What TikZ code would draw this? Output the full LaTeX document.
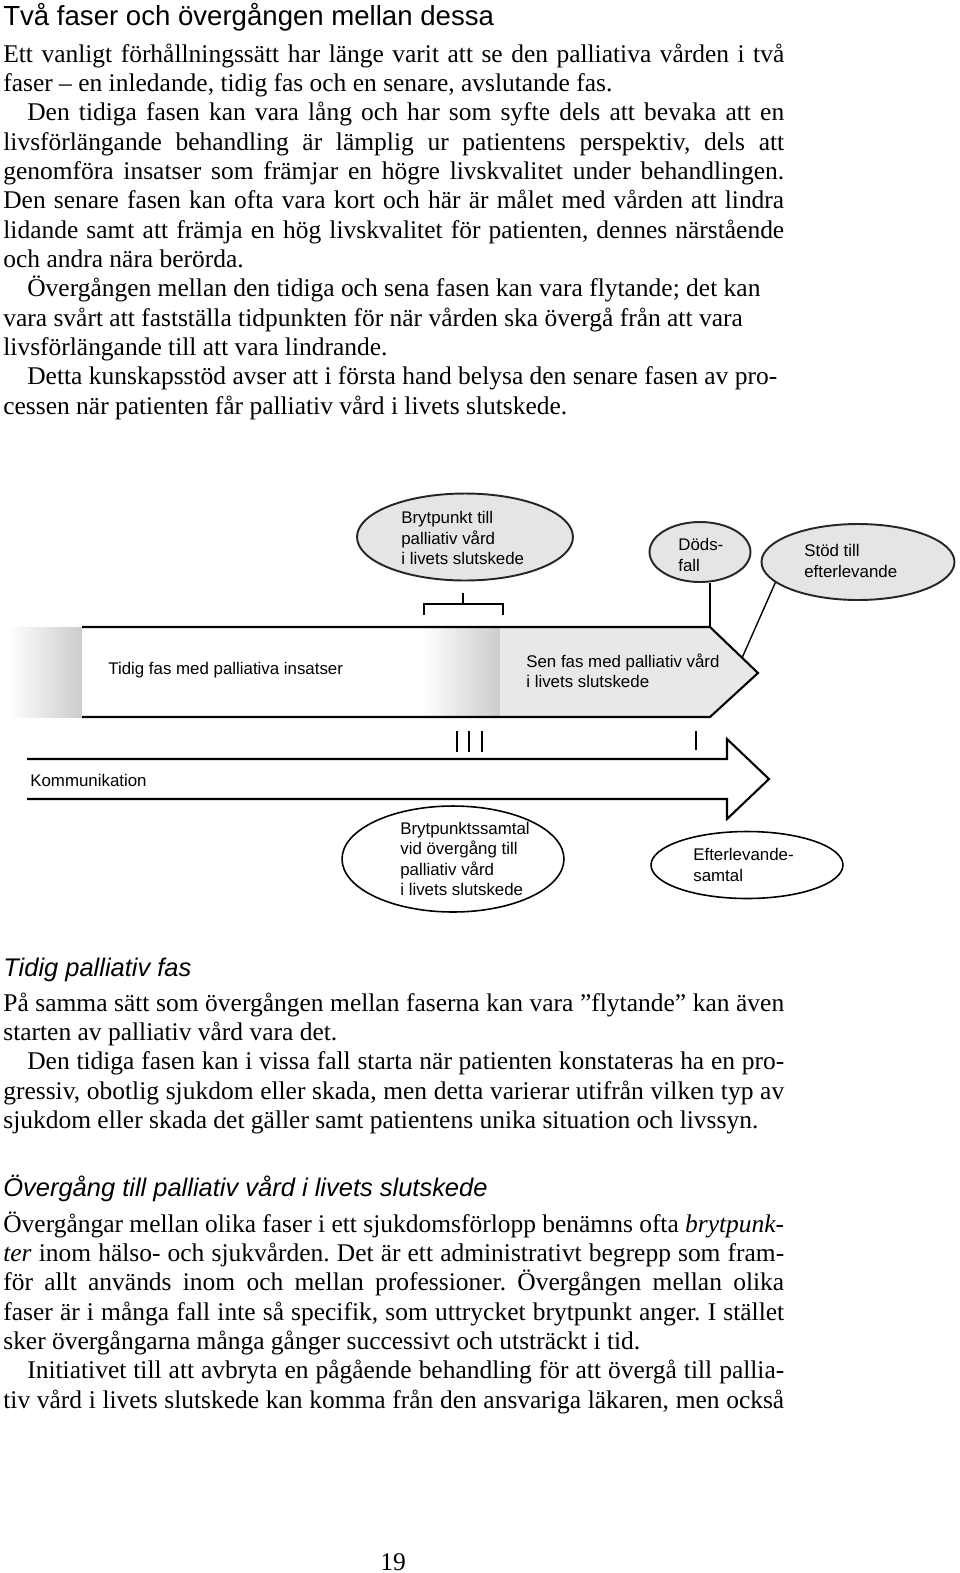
\documentclass[tikz,border=0pt]{standalone}
\usepackage{fontspec}
\setmainfont{Liberation Serif}
\setsansfont{Liberation Sans}
\usepackage{tikz}
\usetikzlibrary{shapes.geometric}

\definecolor{bubblegray}{gray}{0.9}
\definecolor{phasegray}{gray}{0.91}
\definecolor{edgegray}{gray}{0.8}

\begin{document}
\frenchspacing
\begin{tikzpicture}[x=0.02cm, y=-0.02cm,
  bodytext/.style={anchor=base west, inner sep=0pt, text width=15.62cm, align=justify,
    font=\fontsize{14.5}{16.7}\selectfont},
  headline/.style={anchor=base west, inner sep=0pt, font=\sffamily\fontsize{15.7}{18}\selectfont},
  subhead/.style={anchor=base west, inner sep=0pt, font=\sffamily\itshape\fontsize{14.5}{17}\selectfont},
  bubble/.style={ellipse, draw=black!85, line width=1.1pt, fill=bubblegray, inner sep=0pt},
  talk/.style={ellipse, draw, line width=0.9pt, fill=white, inner sep=0pt},
  tag/.style={anchor=west, inner sep=0pt, align=left, font=\sffamily\fontsize{9.6}{11.6}\selectfont},
  outline/.style={line width=1.2pt, line join=miter}]
\useasboundingbox (0,0) rectangle (960,1573);

\node[headline] (title) at (3,25) {Två faser och övergången mellan dessa};
\node[bodytext] (intro) at (3,62) {\setlength{\parindent}{0.48cm}\noindent
Ett vanligt förhållningssätt har länge varit att se den palliativa vården i två\linebreak
faser – en inledande, tidig fas och en senare, avslutande fas.\par
Den tidiga fasen kan vara lång och har som syfte dels att bevaka att en\linebreak
livsförlängande behandling är lämplig ur patientens perspektiv, dels att\linebreak
genomföra insatser som främjar en högre livskvalitet under behandlingen.\linebreak
Den senare fasen kan ofta vara kort och här är målet med vården att lindra\linebreak
lidande samt att främja en hög livskvalitet för patienten, dennes närstående\linebreak
och andra nära berörda.\par
Övergången mellan den tidiga och sena fasen kan vara flytande; det kan\newline
vara svårt att fastställa tidpunkten för när vården ska övergå från att vara\newline
livsförlängande till att vara lindrande.\par
Detta kunskapsstöd avser att i första hand belysa den senare fasen av pro-\newline
cessen när patienten får palliativ vård i livets slutskede.};

\node[bubble, minimum width=4.32cm, minimum height=1.74cm] (brytpunkt) at (465,537) {};
\node[tag] (brytpunkt text) at (401,538) {Brytpunkt till\\palliativ vård\\i livets slutskede};
\node[bubble, minimum width=2.02cm, minimum height=1.2cm] (dodsfall) at (700,552) {};
\node[tag] (dodsfall text) at (678,555) {Döds-\\fall};
\node[bubble, minimum width=3.86cm, minimum height=1.52cm] (stod) at (858,562) {};
\node[tag] (stod text) at (804,561) {Stöd till\\efterlevande};

\draw[line width=0.9pt] (424,615) -- (424,604) -- (503,604) -- (503,615);
\draw[line width=0.9pt] (463,604) -- (463,593);

\shade[left color=white, right color=edgegray] (8,627) rectangle (82,717);
\shade[left color=white, right color=edgegray] (423,627) rectangle (500,717);
\fill[phasegray] (500,627) -- (710,627) -- (758,673) -- (710,717) -- (500,717) -- cycle;
\draw[outline] (82,627) -- (710,627) -- (758,673) -- (710,717) -- (82,717);
\coordinate (shoulder) at (710,627);
\coordinate (bandedge) at (742,658);
\node[tag] (tidig) at (108,670) {Tidig fas med palliativa insatser};
\node[tag] (sen) at (526,671) {Sen fas med palliativ vård\\i livets slutskede};

\draw[outline] (shoulder) -- (shoulder |- dodsfall.south);
\draw[line width=0.8pt] (stod.194) -- (bandedge);

\foreach \x/\w in {457/1pt,469/0.6pt,482/1pt}
  \draw[line width=\w] (\x,731) -- (\x,752);
\draw[line width=0.6pt] (696,731) -- (696,750);

\draw[outline] (27,759) -- (727,759) -- (727,739) -- (769,779) -- (727,819) -- (727,799) -- (27,799);
\node[tag] (kommunikation) at (30,780) {Kommunikation};

\node[talk, minimum width=4.44cm, minimum height=2.12cm] (samtal) at (453,859) {};
\node[tag] (samtal text) at (400,859) {Brytpunktssamtal\\vid övergång till\\palliativ vård\\i livets slutskede};
\node[talk, minimum width=3.84cm, minimum height=1.34cm] (efterlevande) at (747,865) {};
\node[tag] (efterlevande text) at (693,865) {Efterlevande-\\samtal};

\node[subhead] (tidighead) at (3,976) {Tidig palliativ fas};
\node[bodytext] (tidigtext) at (3,1011) {\setlength{\parindent}{0.48cm}\noindent
På samma sätt som övergången mellan faserna kan vara ”flytande” kan även\linebreak
starten av palliativ vård vara det.\par
Den tidiga fasen kan i vissa fall starta när patienten konstateras ha en pro-\linebreak
gressiv, obotlig sjukdom eller skada, men detta varierar utifrån vilken typ av\linebreak
sjukdom eller skada det gäller samt patientens unika situation och livssyn.};

\node[subhead] (overganghead) at (3,1196) {Övergång till palliativ vård i livets slutskede};
\node[bodytext] (overgangtext) at (3,1232) {\setlength{\parindent}{0.48cm}\noindent
Övergångar mellan olika faser i ett sjukdomsförlopp benämns ofta \textit{brytpunk-}\linebreak
\textit{ter} inom hälso- och sjukvården. Det är ett administrativt begrepp som fram-\linebreak
för allt används inom och mellan professioner. Övergången mellan olika\linebreak
faser är i många fall inte så specifik, som uttrycket brytpunkt anger. I stället\linebreak
sker övergångarna många gånger successivt och utsträckt i tid.\par
Initiativet till att avbryta en pågående behandling för att övergå till pallia-\linebreak
tiv vård i livets slutskede kan komma från den ansvariga läkaren, men också{\parfillskip=0pt\par}};

\node[anchor=base, inner sep=0pt, font=\fontsize{14.5}{16}\selectfont] (pagenum) at (393,1570) {19};
\end{tikzpicture}
\end{document}
